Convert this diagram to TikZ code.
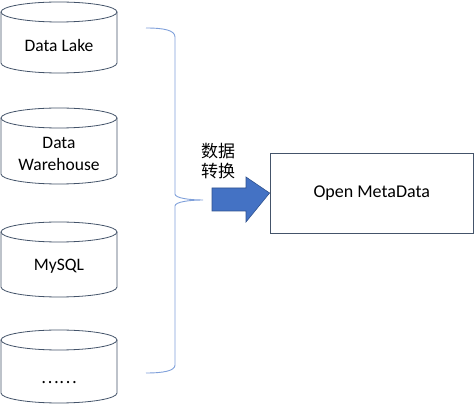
\documentclass[tikz,border=0pt]{standalone}
\usepackage{fontspec}
\setmainfont{Carlito}
\newfontfamily\cjk{Noto Sans CJK SC}
\definecolor{cylline}{HTML}{44546A}
\definecolor{bracecol}{HTML}{7FA0DA}
\definecolor{arrfill}{HTML}{4472C4}
\definecolor{arrline}{HTML}{2F528F}
\tikzset{
  cyl/.style={draw=cylline, line width=0.8pt, fill=white},
  lbl/.style={font=\fontsize{17.5}{22}\selectfont, align=center, inner sep=0pt, text=black},
  cjklbl/.style={font=\cjk\fontsize{17}{20}\selectfont, align=center, inner sep=0pt, text=black},
  bracestyle/.style={draw=bracecol, line width=0.9pt},
  omdbox/.style={draw=cylline, line width=0.8pt, minimum width=203.5pt, minimum height=80pt, inner sep=0pt, font=\fontsize{18}{22}\selectfont}
}
\begin{document}
\begin{tikzpicture}[x=1pt,y=1pt]
\useasboundingbox (0,0) rectangle (475,407);
% cylinder 1
\draw[cyl] (1,395) -- (1,344) arc[start angle=180,end angle=360,x radius=58,y radius=10] -- (117,395);
\draw[cyl] (59,395) ellipse[x radius=58,y radius=10];
\node[lbl] (lake) at (59,362) {Data Lake};
% cylinder 2
\draw[cyl] (1,289) -- (1,233) arc[start angle=180,end angle=360,x radius=58,y radius=10] -- (117,289);
\draw[cyl] (59,289) ellipse[x radius=58,y radius=10];
\node[lbl] (wh) at (59,253) {Data\\Warehouse};
% cylinder 3
\draw[cyl] (1,175) -- (1,120) arc[start angle=180,end angle=360,x radius=58,y radius=10] -- (117,175);
\draw[cyl] (59,175) ellipse[x radius=58,y radius=10];
\node[lbl] (mysql) at (59,141) {MySQL};
% cylinder 4
\draw[cyl] (1,67) -- (1,14) arc[start angle=180,end angle=360,x radius=58,y radius=10] -- (117,67);
\draw[cyl] (59,67) ellipse[x radius=58,y radius=10];
\node[cjklbl] (more) at (59,24) {……};
% brace
\coordinate (btop) at (146,379);
\coordinate (btip) at (203,207);
\coordinate (bbot) at (146,34);
\draw[bracestyle] (btop) .. controls (163,379) and (175,377) .. (175,370) -- (175,213)
  .. controls (175,209) and (189,207) .. (btip)
  .. controls (189,207) and (175,205) .. (175,201) -- (175,42)
  .. controls (175,36) and (163,34) .. (bbot);
% label
\node[cjklbl] (conv) at (218,246) {数据\\转换};
% target box
\node[omdbox] (omd) at (371.75,214) {Open MetaData};
% arrow
\coordinate (atip) at (omd.west);
\draw[fill=arrfill, draw=arrline, line width=0.6pt] (212,219) -- (246,219) -- (246,230) -- (atip) -- (246,185) -- (246,196) -- (212,196) -- cycle;
\end{tikzpicture}
\end{document}
